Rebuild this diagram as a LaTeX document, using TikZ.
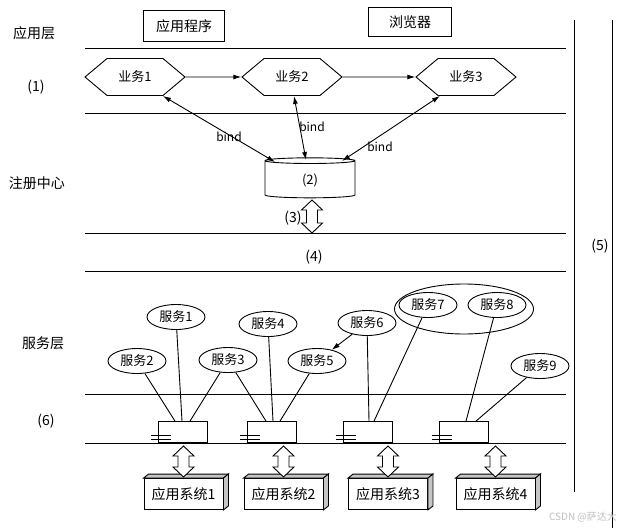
\documentclass[tikz,border=0pt]{standalone}
\usepackage{fontspec}
\setmainfont{Noto Sans CJK SC}
\usetikzlibrary{arrows.meta,calc,shapes.geometric,shapes.symbols}
\tikzset{
  layer/.style={line width=0.9pt},
  lbl/.style={font=\fontsize{14}{16}\selectfont, inner sep=0pt},
  hexa/.style={signal, signal to=west and east, signal pointer angle=80, draw, line width=0.9pt,
    minimum width=100pt, minimum height=37pt, inner sep=0pt, font=\fontsize{13}{15}\selectfont},
  svc/.style={ellipse, draw, line width=0.9pt, minimum width=58pt, minimum height=25pt,
    inner sep=0pt, font=\fontsize{13}{15}\selectfont},
  comp/.style={rectangle, draw, line width=0.9pt, minimum width=49pt, minimum height=21pt, anchor=south},
  sysbox/.style={rectangle, draw, fill=white, line width=0.9pt, minimum width=79pt,
    minimum height=31pt, font=\fontsize{14}{16}\selectfont},
  link/.style={line width=0.9pt},
  tip/.style={line width=0.9pt, -{Latex[length=8pt,width=5pt]}},
  bi/.style={line width=0.9pt, {Latex[length=8pt,width=5pt]}-{Latex[length=8pt,width=5pt]}},
}
% hollow double arrow: x, top y, bottom y
\newcommand{\hollowarrow}[3]{
\draw[link, fill=white] (#1,#2) -- ++(10.5,10) -- ++(-5,0) -- (#1+5.5,#3-10) -- ++(5,0) -- (#1,#3)
  -- ++(-10.5,-10) -- ++(5,0) -- (#1-5.5,#2+10) -- ++(-5,0) -- cycle;
}
\begin{document}
\begin{tikzpicture}[x=1pt,y=-1pt]
\useasboundingbox (0,0) rectangle (624,528);
% layers
\foreach \y in {48,113,233,271,394,443}{
\draw[layer] (85,\y)--(566,\y);
}
\draw[layer] (574,20)--(574,492);
\draw[layer] (612,20)--(612,528);

% left labels
\node[lbl] (lapp) at (34,33) {应用层};
\node[lbl] (l1) at (36,87) {(1)};
\node[lbl] (lreg) at (37,183) {注册中心};
\node[lbl] (lsvc) at (43,343) {服务层};
\node[lbl] (l6) at (46,421) {(6)};
\node[lbl] (l4) at (314,257) {(4)};
\node[lbl] (l5) at (600,246) {(5)};

% application layer
\node[draw, layer, lbl, minimum width=81pt, minimum height=31pt] (prog) at (184,26) {应用程序};
\node[draw, layer, lbl, minimum width=83pt, minimum height=29pt] (brw) at (410,22) {浏览器};

% business flow
\node[hexa] (b1) at (135,77) {业务1};
\node[hexa] (b2) at (292,77) {业务2};
\node[hexa] (b3) at (466,77) {业务3};
\draw[tip] (b1) -- (b2);
\draw[tip] (b2) -- (b3);

% registry
\node[cylinder, shape border rotate=90, aspect=0.25, draw, layer, minimum width=90pt,
  minimum height=40pt, font=\fontsize{13}{15}\selectfont] (reg) at (310,180) {(2)};
\draw[bi] ([xshift=28pt]b1.south) -- ($(reg.center)+(-35,-18)$);
\draw[bi] ([xshift=2pt]b2.south) -- ($(reg.center)+(-4,-20)$);
\draw[bi] ([xshift=-26pt]b3.south) -- ($(reg.center)+(32,-19)$);
\node[font=\fontsize{12}{14}\selectfont] (bd1) at (229,137) {bind};
\node[font=\fontsize{12}{14}\selectfont] (bd2) at (312,127) {bind};
\node[font=\fontsize{12}{14}\selectfont] (bd3) at (380,147) {bind};
\hollowarrow{312}{200}{233}
\node[lbl] (l3) at (293,218) {(3)};

% services
\node[svc] (s1) at (176,317) {服务1};
\node[svc] (s2) at (137,361) {服务2};
\node[svc] (s3) at (228,360) {服务3};
\node[svc] (s4) at (268,324) {服务4};
\node[svc] (s5) at (317,361) {服务5};
\node[svc] (s6) at (367,323) {服务6};
\node[svc] (s7) at (428,305) {服务7};
\node[svc] (s8) at (497,305) {服务8};
\node[svc] (s9) at (540,366) {服务9};
\node[ellipse, draw, layer, minimum width=139pt, minimum height=50pt] (grp) at (464,309) {};
\draw[tip] (s6) -- (s5);

% components
\node[comp] (c1) at (183,443) {};
\node[comp] (c2) at (272,443) {};
\node[comp] (c3) at (367.5,443) {};
\node[comp] (c4) at (463.5,443) {};
\foreach \i in {1,...,4}{
\draw[link] ($(c\i.south west)+(-7,-4)$) -- ++(20,0);
\draw[link] ($(c\i.south west)+(-7,-8)$) -- ++(20,0);
}
\draw[link] (s2) -- ([xshift=-8pt]c1.north);
\draw[link] (s1) -- ([xshift=-1pt]c1.north);
\draw[link] (s3) -- ([xshift=7pt]c1.north);
\draw[link] (s3) -- ([xshift=-6pt]c2.north);
\draw[link] (s4) -- ([xshift=1pt]c2.north);
\draw[link] (s5) -- ([xshift=8pt]c2.north);
\draw[link] (s6) -- ([xshift=1.5pt]c3.north);
\draw[link] (s7) -- ([xshift=6.5pt]c3.north);
\draw[link] (s8) -- ([xshift=2.5pt]c4.north);
\draw[link] (s9) -- ([xshift=12.5pt]c4.north);

% application systems
\node[sysbox] (sys1) at (183.5,494) {应用系统1};
\node[sysbox] (sys2) at (283.5,494) {应用系统2};
\node[sysbox] (sys3) at (388,494) {应用系统3};
\node[sysbox] (sys4) at (495.5,494) {应用系统4};
\foreach \i/\x in {1/183.5,2/283.5,3/388,4/495.5}{
\filldraw[link, fill=gray!45] (sys\i.north west) -- ++(5,-4) -- ($(sys\i.north east)+(5,-4)$) -- (sys\i.north east) -- cycle;
\filldraw[link, fill=gray!45] (sys\i.north east) -- ++(5,-4) -- ($(sys\i.south east)+(5,-4)$) -- (sys\i.south east) -- cycle;
\hollowarrow{\x}{446}{477}
}

\node[font=\fontsize{10}{12}\selectfont, text=gray!50] (wm) at (583,517) {CSDN @萨达大};
\end{tikzpicture}
\end{document}
